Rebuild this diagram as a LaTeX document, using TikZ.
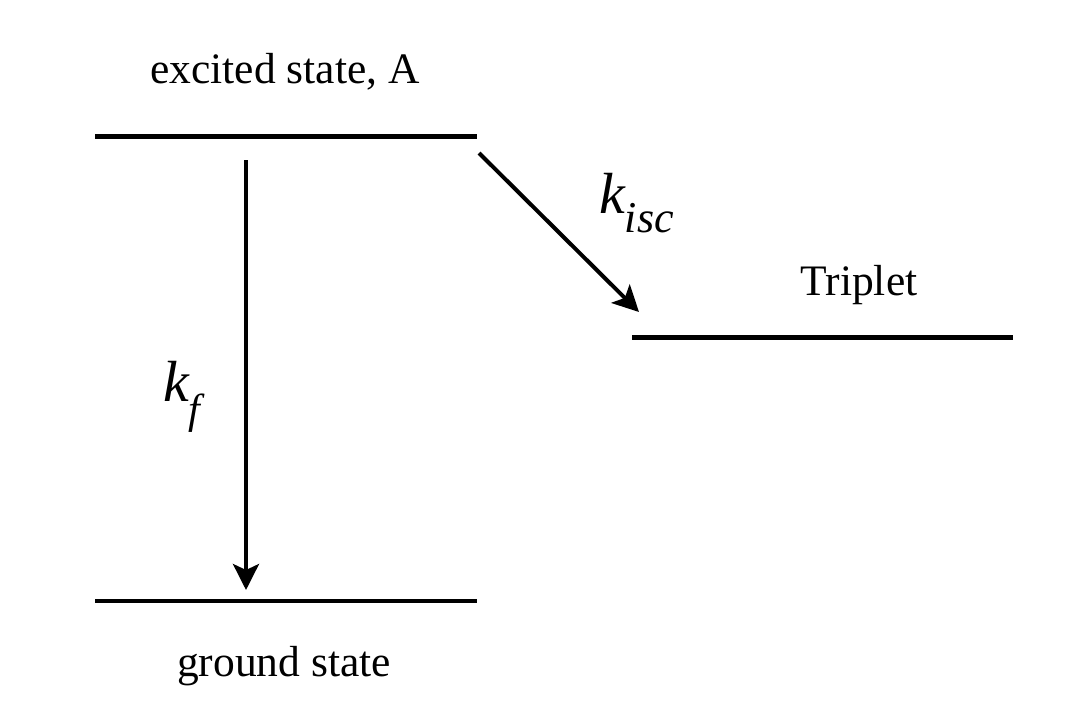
\documentclass[tikz,border=0pt]{standalone}
\usepackage{fontspec}
\setmainfont{Liberation Serif}
\usetikzlibrary{arrows.meta}
\begin{document}
\begin{tikzpicture}[x=1pt,y=-1pt,
  level/.style={line width=4.5pt},
  trans/.style={line width=4pt,-{Stealth[length=26pt,width=26pt,inset=6pt]}},
  lab/.style={anchor=base,inner sep=0pt,font=\fontsize{43.5}{50}\selectfont},
  rate/.style={anchor=base west,inner sep=0pt,font=\fontsize{58}{66}\selectfont\itshape}]
\useasboundingbox (0,0) rectangle (1085,702);
% levels
\coordinate (exL) at (95,136.5);
\coordinate (exR) at (477,136.5);
\coordinate (gsL) at (95,601);
\coordinate (gsR) at (477,601);
\coordinate (trL) at (632,337.5);
\coordinate (trR) at (1013,337.5);
\draw[level] (exL) -- (exR);
\draw[level] (gsL) -- (gsR);
\draw[level] (trL) -- (trR);
% labels
\node[lab] (exlab) at (285,83) {excited state, A};
\node[lab] (gslab) at (284,676) {ground state};
\node[lab] (trlab) at (859,295) {Triplet};
% transitions
\coordinate (fs) at (246,160);
\coordinate (fe) at (246,590);
\coordinate (is) at (479,153);
\coordinate (ie) at (639,312);
\draw[trans] (fs) -- (fe);
\draw[trans] (is) -- (ie);
% rate labels
\node[rate] (kf) at (163,401) {k\raisebox{-22pt}{\fontsize{42}{48}\selectfont f}};
\node[rate] (kisc) at (599,213) {k\raisebox{-19pt}{\fontsize{44}{50}\selectfont isc}};
\end{tikzpicture}
\end{document}
